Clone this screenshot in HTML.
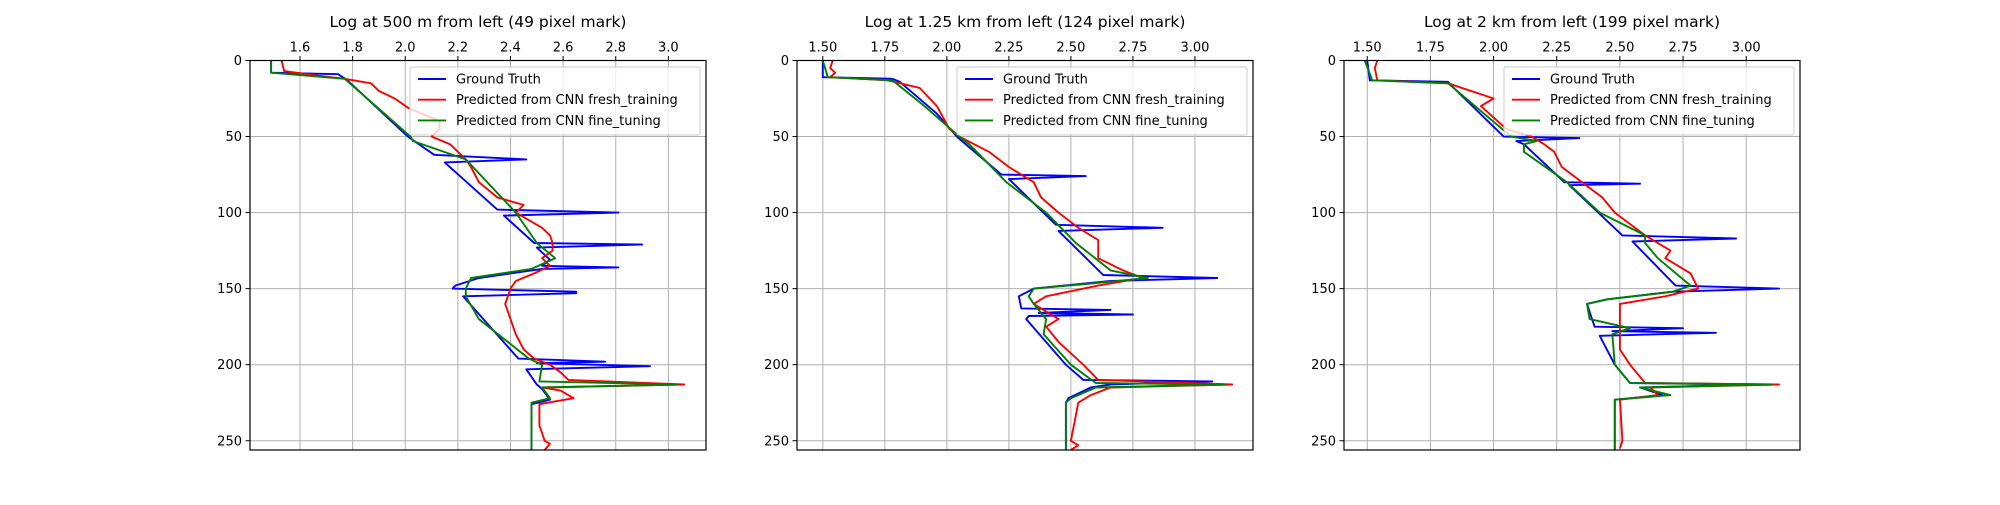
<!DOCTYPE html>
<html><head><meta charset="utf-8"><style>
body{margin:0;background:#fff;width:2000px;height:500px;overflow:hidden}
svg{font-family:"DejaVu Sans","Liberation Sans",sans-serif}
</style></head><body>
<svg id="chart" width="2000" height="500" xmlns="http://www.w3.org/2000/svg"></svg>
<script>
const titles=["Log at 500 m from left (49 pixel mark)","Log at 1.25 km from left (124 pixel mark)","Log at 2 km from left (199 pixel mark)"];
const xTicks=[[1.6,1.8,2.0,2.2,2.4,2.6,2.8,3.0],[1.5,1.75,2.0,2.25,2.5,2.75,3.0],[1.5,1.75,2.0,2.25,2.5,2.75,3.0]];
const xTickLabels=[["1.6","1.8","2.0","2.2","2.4","2.6","2.8","3.0"],["1.50","1.75","2.00","2.25","2.50","2.75","3.00"],["1.50","1.75","2.00","2.25","2.50","2.75","3.00"]];
const yTicks=[0,50,100,150,200,250];
const xLims=[[1.41,3.143],[1.396,3.234],[1.408,3.213]];
const seriesNames=["Ground Truth","Predicted from CNN fresh_training","Predicted from CNN fine_tuning"];
// panel 1
const p1TruthDepth=[0,8,9,13,50,62,65,67,98,100,102,120,121,123,131,135,136,137,143,148,150,152,153,155,196,198,199,201,203,213,216,223,226,256];
const p1TruthVal=[1.49,1.49,1.745,1.78,2.01,2.11,2.46,2.15,2.35,2.81,2.375,2.49,2.90,2.50,2.55,2.52,2.81,2.52,2.28,2.19,2.18,2.65,2.65,2.22,2.43,2.76,2.50,2.93,2.46,2.50,2.52,2.55,2.48,2.48];
const p1FreshDepth=[0,7,10,12,15,20,25,31,40,45,50,55,60,65,70,80,90,95,100,110,115,120,125,130,135,140,145,150,160,170,180,190,196,200,205,210,213,215,217,222,226,240,250,252,256];
const p1FreshVal=[1.53,1.54,1.67,1.77,1.87,1.90,1.96,2.01,2.13,2.13,2.10,2.17,2.20,2.23,2.25,2.28,2.35,2.45,2.42,2.52,2.55,2.56,2.56,2.52,2.55,2.49,2.42,2.40,2.38,2.40,2.42,2.45,2.49,2.55,2.59,2.62,3.06,2.52,2.59,2.64,2.51,2.51,2.53,2.55,2.53];
const p1FineDepth=[0,8,12,50,53,65,100,120,130,137,143,150,155,170,196,200,211,213,215,222,225,256];
const p1FineVal=[1.49,1.49,1.77,2.02,2.03,2.23,2.42,2.50,2.57,2.48,2.25,2.23,2.23,2.28,2.47,2.52,2.51,3.03,2.52,2.55,2.48,2.48];
// panel 2
const p2TruthDepth=[0,11,12,14,35,50,75,76,78,108,110,112,141,143,145,150,155,163,164,166,167,168,170,200,210,211,213,215,222,225,256];
const p2TruthVal=[1.50,1.50,1.78,1.81,1.96,2.04,2.22,2.56,2.25,2.44,2.87,2.45,2.63,3.09,2.66,2.35,2.29,2.30,2.66,2.37,2.75,2.33,2.32,2.48,2.55,3.07,2.66,2.58,2.49,2.48,2.48];
const p2FreshDepth=[0,5,8,11,13,18,30,45,50,60,70,80,90,100,110,118,130,138,143,148,155,160,170,175,185,200,210,213,215,220,225,250,253,256];
const p2FreshVal=[1.54,1.53,1.55,1.53,1.76,1.89,1.96,2.01,2.05,2.17,2.25,2.35,2.38,2.45,2.53,2.61,2.61,2.71,2.79,2.61,2.40,2.35,2.45,2.40,2.45,2.55,2.61,3.15,2.66,2.58,2.53,2.50,2.53,2.50];
const p2FineDepth=[0,11,13,30,50,55,80,100,120,138,143,147,150,155,160,170,180,200,212,213,215,222,225,256];
const p2FineVal=[1.50,1.52,1.78,1.91,2.05,2.09,2.24,2.40,2.52,2.66,2.81,2.56,2.35,2.33,2.35,2.40,2.39,2.50,2.60,3.12,2.60,2.50,2.48,2.48];
// panel 3
const p3TruthDepth=[0,13,14,16,50,51,53,55,80,81,82,115,117,119,148,150,152,157,160,175,176,178,179,181,200,212,213,215,220,223,256];
const p3TruthVal=[1.50,1.51,1.82,1.83,2.04,2.34,2.09,2.12,2.28,2.58,2.30,2.51,2.96,2.55,2.72,3.13,2.71,2.45,2.37,2.40,2.75,2.47,2.88,2.42,2.48,2.54,3.05,2.58,2.67,2.48,2.48];
const p3FreshDepth=[0,5,13,15,25,30,45,50,55,60,70,80,90,100,115,125,130,140,150,155,160,170,180,190,200,212,213,215,220,223,250,255];
const p3FreshVal=[1.54,1.53,1.54,1.82,2.00,1.95,2.05,2.15,2.20,2.24,2.27,2.35,2.43,2.48,2.60,2.70,2.68,2.78,2.81,2.68,2.50,2.50,2.50,2.50,2.54,2.60,3.13,2.62,2.65,2.50,2.51,2.50];
const p3FineDepth=[0,13,15,50,53,55,60,80,100,115,120,130,148,152,157,160,170,176,180,200,212,213,215,220,223,256];
const p3FineVal=[1.49,1.52,1.82,2.07,2.17,2.12,2.12,2.29,2.42,2.60,2.60,2.65,2.78,2.71,2.45,2.37,2.38,2.54,2.47,2.48,2.54,3.10,2.58,2.70,2.48,2.48];

const panels=[
 {truth:[p1TruthDepth,p1TruthVal],fresh:[p1FreshDepth,p1FreshVal],fine:[p1FineDepth,p1FineVal]},
 {truth:[p2TruthDepth,p2TruthVal],fresh:[p2FreshDepth,p2FreshVal],fine:[p2FineDepth,p2FineVal]},
 {truth:[p3TruthDepth,p3TruthVal],fresh:[p3FreshDepth,p3FreshVal],fine:[p3FineDepth,p3FineVal]}];
const NS="http://www.w3.org/2000/svg";
const svg=document.getElementById('chart');
function mk(tag,attrs,parent){const e=document.createElementNS(NS,tag);for(const k in attrs)e.setAttribute(k,attrs[k]);(parent||svg).appendChild(e);return e;}
const lefts=[250,797,1344],W=456,top0=60.5,bot=450,pxPerDepth=1.521;
const yScale=d=>top0+d*pxPerDepth;
panels.forEach((p,i)=>{
  const L=lefts[i],R=L+W;
  const xs=v=>L+(v-xLims[i][0])/(xLims[i][1]-xLims[i][0])*W;
  const g=mk('g',{});
  
  
  xTicks[i].forEach((t,j)=>{
    const x=xs(t);
    const gl=mk('line',{x1:x,x2:x,y1:top0,y2:bot,stroke:'#b0b0b0','stroke-width':1},g);
    
    
    mk('line',{x1:x,x2:x,y1:top0,y2:top0-4.5,stroke:'#000','stroke-width':1},g);
    const tl=mk('text',{x:x,y:top0-9,'text-anchor':'middle','font-size':13},g);
    tl.textContent=xTickLabels[i][j];
    
    
  });
  yTicks.forEach(t=>{
    const y=yScale(t);
    const gl=mk('line',{x1:L,x2:R,y1:y,y2:y,stroke:'#b0b0b0','stroke-width':1},g);
    
    
    mk('line',{x1:L,x2:L-4.5,y1:y,y2:y,stroke:'#000','stroke-width':1},g);
    const tl=mk('text',{x:L-8,y:y+4.5,'text-anchor':'end','font-size':13},g);
    tl.textContent=t;
    
    
  });
  const cid='clip'+i;
  const cp=mk('clipPath',{id:cid},g);mk('rect',{x:L,y:top0,width:W,height:bot-top0},cp);
  [['truth','#0000ff','ground-truth-line'],['fresh','#ff0000','fresh-training-line'],['fine','#008000','fine-tuning-line']].forEach(([k,c,n])=>{
    const [dd,vv]=p[k];
    const pts=dd.map((d,j)=>xs(vv[j]).toFixed(1)+','+yScale(d).toFixed(1)).join(' ');
    const pl=mk('polyline',{points:pts,fill:'none',stroke:c,'stroke-width':1.9,'clip-path':'url(#'+cid+')','stroke-linejoin':'round'},g);
    
    
  });
  const fr=mk('rect',{x:L,y:top0,width:W,height:bot-top0,fill:'none',stroke:'#000','stroke-width':1.2},g);
  
  
  const tt=mk('text',{x:L+W/2,y:27,'text-anchor':'middle','font-size':15.5},g);
  tt.textContent=titles[i];
  
  
  const lx=R-296,ly=67;
  const lg=mk('g',{},g);
  
  
  mk('rect',{x:lx,y:ly,width:290,height:68,fill:'#fff','fill-opacity':0.8,stroke:'#ccc',rx:2},lg);
  ['#0000ff','#ff0000','#008000'].forEach((c,j)=>{
    const y=ly+12+j*20.7;
    mk('line',{x1:lx+8,x2:lx+36,y1:y,y2:y,stroke:c,'stroke-width':1.9},lg);
    const t=mk('text',{x:lx+46,y:y+4.5,'font-size':13},lg);
    t.textContent=seriesNames[j];
    
    
  });
});
</script>
</body></html>
